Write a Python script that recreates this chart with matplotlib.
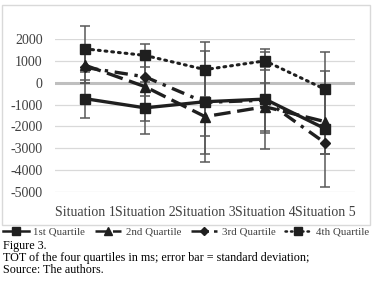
import matplotlib
matplotlib.use("Agg")
import matplotlib.pyplot as plt
from matplotlib.patches import Rectangle
from matplotlib.lines import Line2D

categories = ["Situation 1", "Situation 2", "Situation 3", "Situation 4", "Situation 5"]
q1 = [-730, -1150, -870, -750, -2100]
q2 = [800, -180, -1550, -1100, -1780]
q3 = [700, 270, -900, -800, -2750]
q4 = [1550, 1250, 600, 1000, -300]
q1_sd = [870, 1180, 1560, 2300, 2650]
q2_sd = [800, 1570, 2100, 1100, 1500]
q3_sd = [700, 900, 2350, 1500, 500]
q4_sd = [1050, 530, 1270, 400, 1700]
series_names = ["1st Quartile", "2nd Quartile", "3rd Quartile", "4th Quartile"]
yticks = [2000, 1000, 0, -1000, -2000, -3000, -4000, -5000]

W, H = 377, 285
fig = plt.figure(figsize=(W / 100, H / 100), dpi=100)
serif = ["Liberation Serif", "DejaVu Serif"]

# chart border
fig.patches.append(Rectangle((2 / W, 1 - 225 / H), 368 / W, 220 / H, transform=fig.transFigure,
                             fill=False, edgecolor="#d9d9d9", linewidth=1))

ax = fig.add_axes([55 / W, 1 - 192 / H, 300 / W, 153 / H])
ax.set_xlim(-0.5, 4.5)
ax.set_ylim(-5000, 2000)
for s in ax.spines.values():
    s.set_visible(False)
ax.set_yticks(yticks)
ax.set_yticklabels([str(v) for v in yticks], family=serif, fontsize=10, color="#404040")
ax.set_xticks(range(len(categories)))
ax.set_xticklabels(categories, family=serif, fontsize=10, color="#404040")
ax.tick_params(axis="both", length=0)
ax.tick_params(axis="y", pad=9)
ax.tick_params(axis="x", pad=10)
for v in yticks:
    if v == 0:
        ax.axhline(v, color="#bfbfbf", linewidth=2.2, zorder=1)
    else:
        ax.axhline(v, color="#d9d9d9", linewidth=0.9, zorder=1)

x = list(range(len(categories)))
col = "#1f1f1f"
styles = [
    dict(ls="-", marker="s", ms=7, lw=2.4),
    dict(ls=(0, (5, 2)), marker="^", ms=7, lw=2.4),
    dict(ls=(0, (4, 2, 1, 2)), marker="D", ms=5.5, lw=2.4),
    dict(ls=(0, (0.6, 1.6)), marker="s", ms=7, lw=2.2),
]
data = [(q1, q1_sd), (q2, q2_sd), (q3, q3_sd), (q4, q4_sd)]
for (vals, sd), st, name in zip(data, styles, series_names):
    ax.errorbar(x, vals, yerr=sd, fmt="none", ecolor="#595959", elinewidth=1.1,
                capsize=3.5, capthick=1.1, zorder=2, clip_on=False)
for (vals, sd), st, name in zip(data, styles, series_names):
    ax.plot(x, vals, color=col, linestyle=st["ls"], linewidth=st["lw"], marker=st["marker"],
            markersize=st["ms"], dash_capstyle="round" if name == "4th Quartile" else "butt",
            zorder=3, clip_on=False, label=name)

handles = [Line2D([0], [0], color=col, linestyle=st["ls"], linewidth=1.8, marker=st["marker"],
                  markersize=5.5 if st["marker"] != "D" else 4.5,
                  dash_capstyle="round" if i == 3 else "butt")
           for i, st in enumerate(styles)]
fig.legend(handles, series_names, loc="center", bbox_to_anchor=(186 / W, 1 - 232 / H), ncol=4,
           frameon=False, prop=dict(family=serif, size=7.8), handlelength=2.4, handletextpad=0.45,
           columnspacing=0.9, labelcolor="#404040", borderpad=0, borderaxespad=0)

cap_font = dict(family=serif, fontsize=8.7, color="black", va="center", ha="left")
fig.text(3 / W, 1 - 246 / H, "Figure 3.", **cap_font)
fig.text(3 / W, 1 - 258 / H, "TOT of the four quartiles in ms; error bar = standard deviation;", **cap_font)
fig.text(3 / W, 1 - 270 / H, "Source: The authors.", **cap_font)

fig.savefig("out.png", dpi=100)
